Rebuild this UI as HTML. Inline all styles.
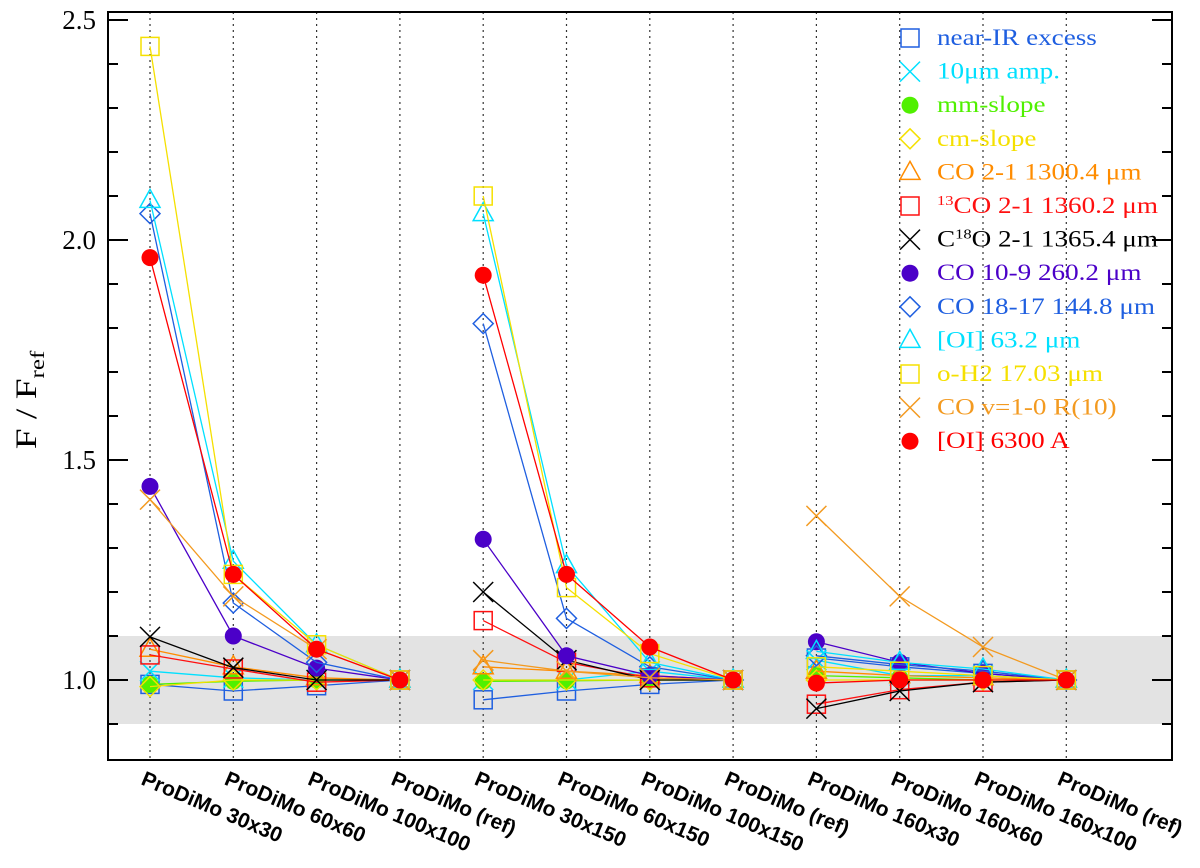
<!DOCTYPE html>
<html><head><meta charset="utf-8"><style>
html,body{margin:0;padding:0;background:#fff;}
svg{display:block;}
</style></head><body>
<svg id="chart" width="1200" height="868" xmlns="http://www.w3.org/2000/svg"></svg>
<script>
const categories=["ProDiMo 30x30","ProDiMo 60x60","ProDiMo 100x100","ProDiMo (ref)","ProDiMo 30x150","ProDiMo 60x150","ProDiMo 100x150","ProDiMo (ref)","ProDiMo 160x30","ProDiMo 160x60","ProDiMo 160x100","ProDiMo (ref)"];
const yTicks=[1.0,1.5,2.0,2.5];
const yTickLabels=["1.0","1.5","2.0","2.5"];
const seriesNames=["near-IR excess","10µm amp.","mm-slope","cm-slope","CO 2-1 1300.4 µm","13CO 2-1 1360.2 µm","C18O 2-1 1365.4 µm","CO 10-9 260.2 µm","CO 18-17 144.8 µm","[OI] 63.2 µm","o-H2 17.03 µm","CO v=1-0 R(10)","[OI] 6300 A"];
const nearIR=[0.99,0.975,0.987,1, 0.955,0.975,0.99,1, 1.05,1.03,1.015,1];
const amp10=[1.02,1.005,1.0,1, 1.0,1.0,1.02,1, 1.045,1.01,1.01,1];
const mmSlope=[0.99,0.997,1.0,1, 0.997,0.998,1.0,1, 1.01,1.005,1.0,1];
const cmSlope=[0.985,1.0,1.0,1, 1.0,1.0,1.0,1, 1.0,1.0,1.0,1];
const co21=[1.07,1.03,1.005,1, 1.03,1.02,1.01,1, 1.02,1.01,1.005,1];
const co13=[1.057,1.025,0.995,1, 1.135,1.04,1.005,1, 0.945,0.978,0.995,1];
const c18o=[1.098,1.028,1.0,1, 1.20,1.045,1.0,1, 0.935,0.975,0.995,1];
const co109=[1.44,1.10,1.027,1, 1.32,1.055,1.01,1, 1.087,1.04,1.015,1];
const co1817=[2.06,1.175,1.04,1, 1.81,1.14,1.03,1, 1.055,1.035,1.02,1];
const oi63=[2.09,1.27,1.08,1, 2.06,1.26,1.04,1, 1.065,1.04,1.025,1];
const oh2=[2.44,1.24,1.08,1, 2.10,1.21,1.06,1, 1.03,1.02,1.01,1];
const cov=[1.41,1.19,1.07,1, 1.045,1.02,1.005,1, 1.373,1.19,1.075,1];
const oi6300=[1.96,1.24,1.07,1, 1.92,1.24,1.075,1, 0.993,1.0,1.0,1];
const allSeries=[nearIR,amp10,mmSlope,cmSlope,co21,co13,c18o,co109,co1817,oi63,oh2,cov,oi6300];
const colors=["#1f5fe0","#00e0ff","#50f000","#f5e000","#ff8c00","#ff1010","#000000","#4b00c8","#1f5fe0","#00e0ff","#f5e000","#f39a20","#ff0000"];
const markers=["square","x","dot","diamond","triangle","square","x","dot","diamond","triangle","square","x","dot"];

const NS="http://www.w3.org/2000/svg";
const svg=document.getElementById('chart');
const L=108,R=1172,T=12,B=760;
function xs(i){return 150+i*83.3;}
function ys(v){return 680-(v-1)*440;}
function el(tag,attrs,parent){const e=document.createElementNS(NS,tag);for(const k in attrs)e.setAttribute(k,attrs[k]);(parent||svg).appendChild(e);return e;}

const band=el('rect',{x:L,y:ys(1.1),width:R-L,height:ys(0.9)-ys(1.1),fill:'#e3e3e3'});


categories.forEach((c,i)=>{
  const g=el('line',{x1:xs(i),x2:xs(i),y1:T,y2:B,stroke:'#333','stroke-width':1.2,'stroke-dasharray':'2,4'});
  
  
});
for(let k=9;k<=25;k++){
  const v=k/10, y=ys(v), major=(k%5===0);
  const len=major?20:10;
  el('line',{x1:L,x2:L+len,y1:y,y2:y,stroke:'#000','stroke-width':2});
  el('line',{x1:R,x2:R-len,y1:y,y2:y,stroke:'#000','stroke-width':2});
}
yTicks.forEach((v,i)=>{
  const t=el('text',{x:96,y:ys(v)+9,'text-anchor':'end','font-family':'Liberation Serif, serif','font-size':27});
  t.textContent=yTickLabels[i];
  
  
});
const frame=el('rect',{x:L,y:T,width:R-L,height:B-T,fill:'none',stroke:'#000','stroke-width':2});


const yt=el('text',{transform:'translate(36,400) rotate(-90) scale(1.25,1)','text-anchor':'middle','font-family':'Liberation Serif, serif','font-size':30});
yt.innerHTML='F / F<tspan font-size="20" dy="8">ref</tspan>';


categories.forEach((c,i)=>{
  const t=el('text',{transform:`translate(${xs(i)-10},${784}) rotate(23)`,'font-family':'Liberation Sans, sans-serif','font-size':21,'font-weight':'bold'});
  t.textContent=c;
  
  
});

function drawMarker(type,x,y,color,parent){
  const s=9;
  if(type==='square') return el('rect',{x:x-s,y:y-s,width:2*s,height:2*s,fill:'none',stroke:color,'stroke-width':1.5},parent);
  if(type==='dot') return el('circle',{cx:x,cy:y,r:8.5,fill:color},parent);
  if(type==='diamond') return el('polygon',{points:`${x},${y-10} ${x+10},${y} ${x},${y+10} ${x-10},${y}`,fill:'none',stroke:color,'stroke-width':1.5},parent);
  if(type==='triangle') return el('polygon',{points:`${x},${y-11} ${x+10},${y+7} ${x-10},${y+7}`,fill:'none',stroke:color,'stroke-width':1.5},parent);
  const g=el('g',{},parent);
  el('line',{x1:x-10,y1:y-10,x2:x+10,y2:y+10,stroke:color,'stroke-width':1.5},g);
  el('line',{x1:x-10,y1:y+10,x2:x+10,y2:y-10,stroke:color,'stroke-width':1.5},g);
  return g;
}
allSeries.forEach((vals,si)=>{
  const g=el('g',{});
  
  
  for(let grp=0;grp<3;grp++){
    const pts=[];
    for(let j=0;j<4;j++){const i=grp*4+j;pts.push(xs(i)+','+ys(vals[i]));}
    const pl=el('polyline',{points:pts.join(' '),fill:'none',stroke:colors[si],'stroke-width':1.3},g);
    
    
  }
  vals.forEach((v,i)=>{
    const m=drawMarker(markers[si],xs(i),ys(v),colors[si],g);
    
    
  });
});
const legendHtml=["near-IR excess","10μm amp.","mm-slope","cm-slope","CO 2-1 1300.4 μm",'<tspan font-size="14" dy="-8">13</tspan><tspan dy="8">CO 2-1 1360.2 μm</tspan>','C<tspan font-size="14" dy="-8">18</tspan><tspan dy="8">O 2-1 1365.4 μm</tspan>',"CO 10-9 260.2 μm","CO 18-17 144.8 μm","[OI] 63.2 μm","o-H2 17.03 μm","CO v=1-0 R(10)","[OI] 6300 A"];
const lg=el('g',{});


seriesNames.forEach((n,i)=>{
  const y=38+i*33.6;
  const e=el('g',{},lg);
  
  
  drawMarker(markers[i],910,y,colors[i],e);
  const t=el('text',{transform:`translate(937,${y+7}) scale(1.18,1)`,fill:colors[i],'font-family':'Liberation Serif, serif','font-size':23},e);
  t.innerHTML=legendHtml[i];
});
</script>
</body></html>
